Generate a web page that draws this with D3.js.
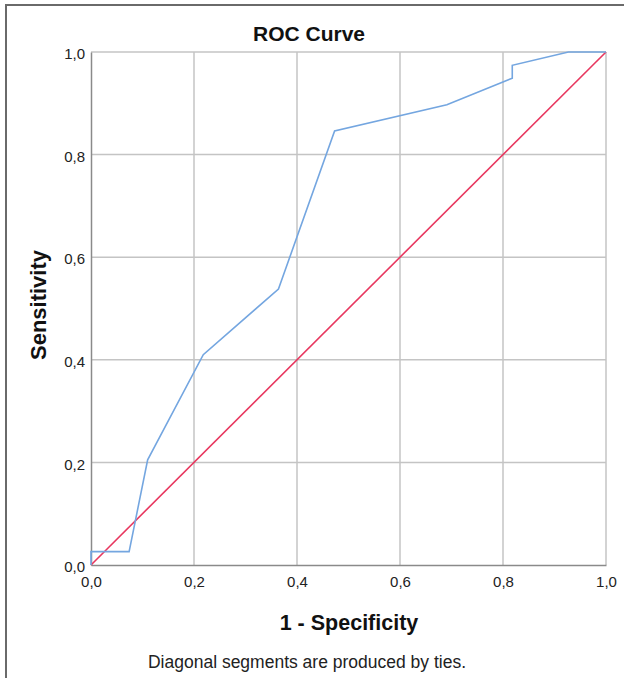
<!DOCTYPE html>
<html>
<head>
<meta charset="utf-8">
<script src="https://cdn.jsdelivr.net/npm/d3@7"></script>
<style>
  body { margin: 0; background: #fff; }
  text { font-family: "Liberation Sans", Arial, sans-serif; }
</style>
</head>
<body>
<div id="wrapper"></div>
<script>
// ROC data
const fpr = [0, 0, 0.074, 0.110, 0.218, 0.364, 0.473, 0.691, 0.818, 0.818, 0.927, 1];
const tpr = [0, 0.026, 0.026, 0.205, 0.410, 0.538, 0.846, 0.897, 0.949, 0.974, 1, 1];
const refLine = [0, 1];
const ticks = [0, 0.2, 0.4, 0.6, 0.8, 1.0];

const fmt = d => d3.format(".1f")(d).replace(".", ",");

let dimensions = {
  width: 624,
  height: 678,
  margin: { top: 52, right: 18, bottom: 113, left: 91 },
};
dimensions.boundedWidth = dimensions.width - dimensions.margin.left - dimensions.margin.right;
dimensions.boundedHeight = dimensions.height - dimensions.margin.top - dimensions.margin.bottom;

const wrapper = d3.select("#wrapper")
  .append("svg")
  .attr("width", dimensions.width)
  .attr("height", dimensions.height);

// outer frame (top + left edges only)
wrapper.append("path")
  .attr("d", "M6,678 V5 H624")
  .attr("fill", "none")
  .attr("stroke", "#6a6a6a")
  .attr("stroke-width", 2);

const bounds = wrapper.append("g")
  .attr("transform", `translate(${dimensions.margin.left},${dimensions.margin.top})`);

const xScale = d3.scaleLinear().domain([0, 1]).range([0, dimensions.boundedWidth]);
const yScale = d3.scaleLinear().domain([0, 1]).range([dimensions.boundedHeight, 0]);

// grid
bounds.append("g")
  .selectAll("line.vg")
  .data(ticks.slice(1))
  .join("line")
  .attr("x1", d => xScale(d)).attr("x2", d => xScale(d))
  .attr("y1", 0).attr("y2", dimensions.boundedHeight)
  .attr("stroke", "#c4c4c4").attr("stroke-width", 1.5);

bounds.append("g")
  .selectAll("line.hg")
  .data(ticks.slice(1))
  .join("line")
  .attr("x1", 0).attr("x2", dimensions.boundedWidth)
  .attr("y1", d => yScale(d)).attr("y2", d => yScale(d))
  .attr("stroke", "#c4c4c4").attr("stroke-width", 1.5);

// axes
const xAxis = d3.axisBottom(xScale).tickValues(ticks).tickFormat(fmt).tickSize(0).tickPadding(11);
const yAxis = d3.axisLeft(yScale).tickValues(ticks).tickFormat(fmt).tickSize(0).tickPadding(6);

const xg = bounds.append("g")
  .attr("transform", `translate(0,${dimensions.boundedHeight})`)
  .call(xAxis);
const yg = bounds.append("g").call(yAxis);

[xg, yg].forEach(g => {
  g.select(".domain").attr("stroke", "#8a8a8a").attr("stroke-width", 1.5);
  g.selectAll("text").attr("font-size", 15).attr("fill", "#222")
    .style("font-family", "'Liberation Sans', Arial, sans-serif");
});
yg.selectAll("text").attr("dy", "0.45em");

// reference diagonal
const line = d3.line().x(d => xScale(d[0])).y(d => yScale(d[1]));

bounds.append("path")
  .datum(refLine.map(v => [v, v]))
  .attr("d", line)
  .attr("fill", "none")
  .attr("stroke", "#e8375f")
  .attr("stroke-width", 1.6);

// ROC curve
bounds.append("path")
  .datum(fpr.map((v, i) => [v, tpr[i]]))
  .attr("d", line)
  .attr("fill", "none")
  .attr("stroke", "#74a6e0")
  .attr("stroke-width", 1.6);

// titles
wrapper.append("text")
  .attr("x", 309).attr("y", 41)
  .attr("text-anchor", "middle")
  .attr("font-size", 21).attr("font-weight", "bold")
  .attr("fill", "#111")
  .text("ROC Curve");

wrapper.append("text")
  .attr("transform", "translate(46,305) rotate(-90)")
  .attr("text-anchor", "middle")
  .attr("font-size", 22).attr("font-weight", "bold")
  .attr("fill", "#111")
  .text("Sensitivity");

wrapper.append("text")
  .attr("x", 349).attr("y", 630)
  .attr("text-anchor", "middle")
  .attr("font-size", 21.5).attr("font-weight", "bold")
  .attr("fill", "#111")
  .text("1 - Specificity");

wrapper.append("text")
  .attr("x", 307).attr("y", 668)
  .attr("text-anchor", "middle")
  .attr("font-size", 17.5)
  .attr("fill", "#222")
  .text("Diagonal segments are produced by ties.");
</script>
</body>
</html>
